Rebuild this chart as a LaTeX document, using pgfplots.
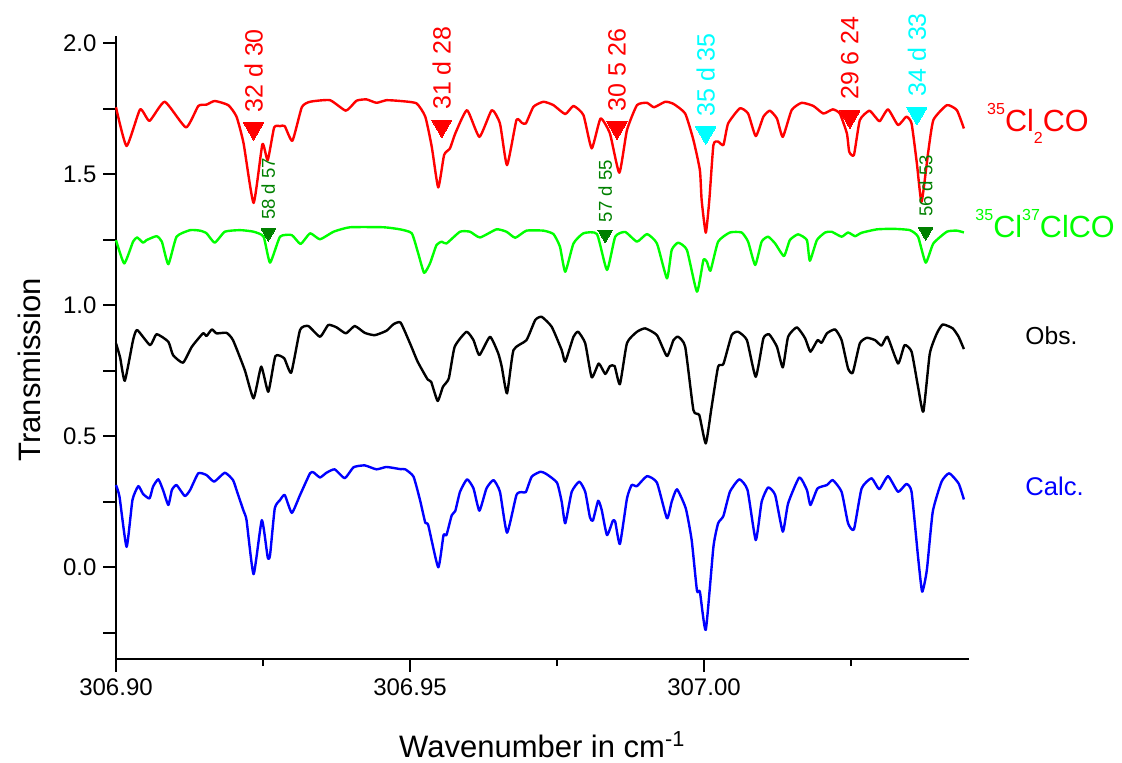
\documentclass[border=0pt]{standalone}
\usepackage{fontspec}
\setmainfont{Liberation Sans}
\usepackage{pgfplots}
\pgfplotsset{compat=1.18}
\definecolor{cgreen}{RGB}{0,255,0}
\definecolor{dgreen}{RGB}{0,128,0}
\definecolor{ccyan}{RGB}{0,255,255}
\newcommand{\sups}[1]{\raisebox{8.6pt}{\fontsize{8}{8}\selectfont #1}}
\newcommand{\subs}[1]{\raisebox{-5.6pt}{\fontsize{8}{8}\selectfont #1}}
\tikzset{lab/.style={rotate=90, anchor=west, inner sep=0pt, font=\fontsize{12.5}{15}\selectfont},
         labs/.style={rotate=90, anchor=west, inner sep=0pt, font=\fontsize{9.3}{11}\selectfont, text=dgreen},
         spec/.style={line width=1.2pt, smooth, tension=0.3, line join=round}}
\begin{document}
\begin{tikzpicture}
\useasboundingbox (-58pt,-51.5pt) rectangle (503pt,329.5pt);
\begin{axis}[
  scale only axis, width=426.3pt, height=311.5pt,
  xmin=306.9, xmax=307.045, ymin=-0.351, ymax=2.027,
  axis lines=left, axis line style={-, line width=1pt},
  clip=false,
  xtick={306.90,306.95,307.00}, xticklabels={306.90,306.95,307.00},
  minor xtick={306.925,306.975,307.025},
  ytick={-0.25,0,0.25,0.5,0.75,1,1.25,1.5,1.75,2},
  yticklabels={,0.0,,0.5,,1.0,,1.5,,2.0},
  tick align=outside,
  major tick length=6.3pt, minor tick length=3.5pt,
  tick style={line width=1pt, black},
  ticklabel style={font=\fontsize{12}{14}\selectfont},
  xlabel={Wavenumber in cm\textsuperscript{-1}},
  ylabel={Transmission},
  label style={font=\fontsize{15.5}{18}\selectfont},
  xlabel style={at={(axis description cs:0.5,0)}, anchor=base, yshift=-49pt},
  ylabel style={at={(rel axis cs:-0.089,0.464)}, anchor=base},
]
% 35Cl2CO (calculated)
\addplot[red, spec] coordinates {
(306.9000,1.755) (306.9018,1.607) (306.9041,1.747) (306.9057,1.703) (306.9083,1.776) (306.9119,1.678) (306.9140,1.760) (306.9154,1.765) (306.9168,1.779) (306.9191,1.763) (306.9205,1.719) (306.9217,1.617) (306.9234,1.390) (306.9249,1.614) (306.9258,1.553) (306.9269,1.678) (306.9279,1.683) (306.9287,1.683) (306.9300,1.627) (306.9316,1.755) (306.9330,1.776) (306.9364,1.782) (306.9391,1.742) (306.9409,1.780) (306.9426,1.785) (306.9443,1.772) (306.9460,1.782) (306.9483,1.779) (306.9511,1.770) (306.9526,1.719) (306.9537,1.604) (306.9548,1.449) (306.9558,1.573) (306.9568,1.598) (306.9577,1.655) (306.9597,1.744) (306.9618,1.642) (306.9639,1.744) (306.9653,1.693) (306.9665,1.534) (306.9681,1.706) (306.9690,1.696) (306.9697,1.693) (306.9710,1.757) (306.9727,1.776) (306.9744,1.763) (306.9764,1.729) (306.9778,1.760) (306.9795,1.725) (306.9809,1.598) (306.9824,1.712) (306.9840,1.655) (306.9856,1.505) (306.9869,1.668) (306.9886,1.763) (306.9903,1.772) (306.9915,1.755) (306.9934,1.776) (306.9948,1.768) (306.9968,1.731) (306.9982,1.630) (306.9993,1.515) (306.9996,1.400) (307.0003,1.276) (307.0009,1.400) (307.0016,1.611) (307.0024,1.624) (307.0033,1.611) (307.0041,1.693) (307.0061,1.751) (307.0075,1.731) (307.0088,1.645) (307.0101,1.719) (307.0112,1.742) (307.0124,1.712) (307.0134,1.642) (307.0149,1.744) (307.0166,1.772) (307.0186,1.760) (307.0203,1.731) (307.0219,1.747) (307.0231,1.731) (307.0243,1.655) (307.0247,1.585) (307.0255,1.573) (307.0265,1.706) (307.0281,1.742) (307.0291,1.719) (307.0299,1.702) (307.0313,1.747) (307.0330,1.687) (307.0344,1.719) (307.0353,1.693) (307.0362,1.541) (307.0370,1.394) (307.0381,1.579) (307.0390,1.706) (307.0413,1.763) (307.0430,1.744) (307.0442,1.674)
};
% 35Cl37ClCO
\addplot[cgreen, spec] coordinates {
(306.9000,1.248) (306.9014,1.159) (306.9029,1.242) (306.9036,1.258) (306.9046,1.238) (306.9052,1.248) (306.9069,1.263) (306.9078,1.242) (306.9089,1.156) (306.9103,1.261) (306.9126,1.286) (306.9143,1.284) (306.9154,1.274) (306.9168,1.238) (306.9185,1.280) (306.9211,1.286) (306.9234,1.280) (306.9251,1.261) (306.9262,1.162) (306.9279,1.261) (306.9299,1.267) (306.9314,1.233) (306.9330,1.274) (306.9347,1.251) (306.9370,1.280) (306.9398,1.297) (306.9455,1.297) (306.9483,1.289) (306.9503,1.274) (306.9514,1.197) (306.9524,1.123) (306.9534,1.159) (306.9545,1.229) (306.9554,1.242) (306.9562,1.235) (306.9585,1.280) (306.9602,1.280) (306.9619,1.258) (306.9647,1.289) (306.9664,1.280) (306.9679,1.257) (306.9698,1.284) (306.9727,1.284) (306.9744,1.271) (306.9755,1.223) (306.9764,1.127) (306.9778,1.235) (306.9795,1.274) (306.9818,1.271) (306.9835,1.134) (306.9849,1.261) (306.9866,1.279) (306.9886,1.242) (306.9903,1.271) (306.9920,1.235) (306.9937,1.102) (306.9945,1.210) (306.9956,1.238) (306.9971,1.210) (306.9988,1.051) (306.9999,1.172) (307.0005,1.165) (307.0011,1.131) (307.0024,1.242) (307.0044,1.277) (307.0064,1.277) (307.0075,1.242) (307.0087,1.153) (307.0098,1.242) (307.0109,1.261) (307.0121,1.235) (307.0136,1.187) (307.0146,1.248) (307.0160,1.270) (307.0175,1.248) (307.0180,1.169) (307.0192,1.248) (307.0206,1.277) (307.0217,1.280) (307.0234,1.261) (307.0245,1.277) (307.0257,1.263) (307.0268,1.276) (307.0294,1.289) (307.0322,1.291) (307.0350,1.286) (307.0364,1.261) (307.0377,1.162) (307.0390,1.235) (307.0413,1.280) (307.0430,1.284) (307.0442,1.277)
};
% Observed
\addplot[black, spec] coordinates {
(306.9000,0.854) (306.9007,0.800) (306.9015,0.711) (306.9029,0.866) (306.9036,0.905) (306.9058,0.847) (306.9069,0.889) (306.9089,0.860) (306.9097,0.809) (306.9114,0.780) (306.9129,0.841) (306.9148,0.892) (306.9154,0.882) (306.9163,0.907) (306.9171,0.892) (306.9188,0.894) (306.9199,0.866) (306.9219,0.752) (306.9234,0.644) (306.9247,0.765) (306.9259,0.669) (306.9271,0.805) (306.9286,0.797) (306.9298,0.742) (306.9313,0.905) (306.9327,0.920) (306.9347,0.879) (306.9361,0.924) (306.9375,0.915) (306.9391,0.892) (306.9406,0.920) (306.9423,0.894) (306.9440,0.885) (306.9460,0.902) (306.9472,0.927) (306.9484,0.933) (306.9500,0.854) (306.9513,0.784) (306.9530,0.716) (306.9536,0.707) (306.9547,0.634) (306.9556,0.688) (306.9566,0.720) (306.9576,0.841) (306.9596,0.898) (306.9608,0.866) (306.9618,0.809) (306.9636,0.879) (306.9650,0.816) (306.9656,0.765) (306.9665,0.663) (306.9676,0.828) (306.9698,0.866) (306.9713,0.943) (306.9724,0.955) (306.9741,0.917) (306.9758,0.828) (306.9764,0.784) (306.9778,0.879) (306.9786,0.898) (306.9798,0.854) (306.9809,0.724) (306.9821,0.777) (306.9832,0.737) (306.9840,0.767) (306.9848,0.767) (306.9857,0.698) (306.9869,0.855) (306.9886,0.898) (306.9900,0.911) (306.9920,0.885) (306.9937,0.805) (306.9948,0.866) (306.9956,0.879) (306.9968,0.841) (306.9982,0.599) (306.9992,0.580) (307.0003,0.472) (307.0013,0.612) (307.0024,0.765) (307.0033,0.775) (307.0047,0.885) (307.0058,0.898) (307.0073,0.866) (307.0088,0.726) (307.0101,0.873) (307.0111,0.888) (307.0124,0.841) (307.0134,0.762) (307.0143,0.879) (307.0158,0.915) (307.0172,0.873) (307.0181,0.822) (307.0193,0.866) (307.0200,0.856) (307.0209,0.892) (307.0223,0.907) (307.0234,0.866) (307.0245,0.758) (307.0253,0.742) (307.0265,0.854) (307.0277,0.875) (307.0291,0.866) (307.0302,0.845) (307.0312,0.879) (307.0330,0.777) (307.0341,0.847) (307.0353,0.822) (307.0364,0.688) (307.0373,0.593) (307.0384,0.815) (307.0396,0.892) (307.0406,0.926) (307.0423,0.911) (307.0433,0.879) (307.0442,0.832)
};
% Calculated
\addplot[blue, spec] coordinates {
(306.9000,0.313) (306.9006,0.268) (306.9018,0.077) (306.9028,0.256) (306.9038,0.309) (306.9046,0.279) (306.9057,0.262) (306.9063,0.307) (306.9072,0.335) (306.9080,0.294) (306.9089,0.237) (306.9095,0.294) (306.9103,0.313) (306.9117,0.271) (306.9126,0.294) (306.9140,0.358) (306.9154,0.351) (306.9167,0.326) (306.9185,0.360) (306.9199,0.332) (306.9206,0.287) (306.9217,0.214) (306.9222,0.179) (306.9234,-0.027) (306.9248,0.179) (306.9258,0.037) (306.9262,0.046) (306.9270,0.224) (306.9279,0.256) (306.9287,0.275) (306.9299,0.207) (306.9313,0.275) (306.9330,0.358) (306.9336,0.361) (306.9347,0.342) (306.9358,0.360) (306.9372,0.373) (306.9389,0.339) (306.9404,0.381) (306.9423,0.388) (306.9443,0.373) (306.9460,0.382) (306.9483,0.374) (306.9492,0.373) (306.9506,0.345) (306.9517,0.256) (306.9526,0.169) (306.9531,0.160) (306.9548,-0.001) (306.9557,0.122) (306.9562,0.122) (306.9571,0.198) (306.9577,0.214) (306.9585,0.287) (306.9597,0.335) (306.9608,0.300) (306.9618,0.215) (306.9630,0.300) (306.9642,0.332) (306.9653,0.287) (306.9665,0.131) (306.9681,0.275) (306.9690,0.286) (306.9697,0.286) (306.9707,0.345) (306.9722,0.364) (306.9732,0.355) (306.9750,0.322) (306.9758,0.249) (306.9764,0.167) (306.9775,0.287) (306.9788,0.326) (306.9798,0.287) (306.9806,0.190) (306.9811,0.177) (306.9820,0.253) (306.9826,0.218) (306.9835,0.122) (306.9845,0.177) (306.9849,0.173) (306.9857,0.088) (306.9869,0.262) (306.9877,0.313) (306.9886,0.309) (306.9903,0.347) (306.9920,0.322) (306.9937,0.186) (306.9945,0.249) (306.9954,0.297) (306.9969,0.224) (306.9979,0.103) (306.9988,-0.090) (306.9993,-0.094) (307.0003,-0.240) (307.0016,0.077) (307.0024,0.167) (307.0033,0.195) (307.0044,0.287) (307.0060,0.335) (307.0074,0.294) (307.0088,0.103) (307.0098,0.249) (307.0109,0.304) (307.0121,0.275) (307.0134,0.135) (307.0143,0.243) (307.0162,0.342) (307.0175,0.294) (307.0181,0.237) (307.0193,0.300) (307.0209,0.313) (307.0219,0.332) (307.0234,0.287) (307.0245,0.167) (307.0255,0.144) (307.0268,0.300) (307.0285,0.339) (307.0298,0.297) (307.0313,0.347) (307.0330,0.287) (307.0344,0.317) (307.0353,0.287) (307.0364,0.039) (307.0371,-0.094) (307.0379,-0.011) (307.0389,0.211) (307.0404,0.326) (307.0417,0.358) (307.0433,0.319) (307.0442,0.258)
};
% assignment markers
\addplot[only marks, mark=triangle*, mark size=5.8pt, mark options={rotate=180, fill=red, draw=red, line width=0pt}] coordinates {(306.9234,1.674) (306.9554,1.684) (306.9852,1.677) (307.0248,1.719)};
\addplot[only marks, mark=triangle*, mark size=5.8pt, mark options={rotate=180, fill=ccyan, draw=ccyan, line width=0pt}] coordinates {(307.0003,1.658) (307.0362,1.732)};
\addplot[only marks, mark=triangle*, mark size=4.2pt, mark options={rotate=180, fill=dgreen, draw=dgreen, line width=0pt}] coordinates {(306.9259,1.276) (306.9832,1.270) (307.0377,1.280)};
% labels
\node[yshift=7.8pt, lab, text=red] at (axis cs:306.9234,1.674) {32 d 30};
\node[yshift=7.8pt, lab, text=red] at (axis cs:306.9554,1.684) {31 d 28};
\node[yshift=7.8pt, lab, text=red] at (axis cs:306.9852,1.677) {30 5 26};
\node[yshift=8.2pt, lab, text=red] at (axis cs:307.0248,1.719) {29 6 24};
\node[yshift=7.8pt, lab, text=ccyan] at (axis cs:307.0003,1.658) {35 d 35};
\node[yshift=8.2pt, lab, text=ccyan] at (axis cs:307.0362,1.732) {34 d 33};
\node[yshift=6.2pt, labs] at (axis cs:306.9259,1.276) {58 d 57};
\node[yshift=5.8pt, labs] at (axis cs:306.9832,1.270) {57 d 55};
\node[yshift=7.2pt, labs] at (axis cs:307.0377,1.280) {56 d 53};
% series names
\node[anchor=base west, inner sep=0pt, text=red, font=\fontsize{15.3}{18}\selectfont] at (axis cs:307.0481,1.661) {\sups{35}Cl\subs{2}CO};
\node[anchor=base west, inner sep=0pt, text=cgreen, font=\fontsize{15.3}{18}\selectfont] at (axis cs:307.0461,1.256) {\sups{35}Cl\sups{37}ClCO};
\node[anchor=west, inner sep=0pt, text=black, font=\fontsize{12.3}{14}\selectfont] at (axis cs:307.0546,0.882) {Obs.};
\node[anchor=west, inner sep=0pt, text=blue, font=\fontsize{12.8}{15}\selectfont] at (axis cs:307.0546,0.309) {Calc.};
\end{axis}
\end{tikzpicture}
\end{document}
